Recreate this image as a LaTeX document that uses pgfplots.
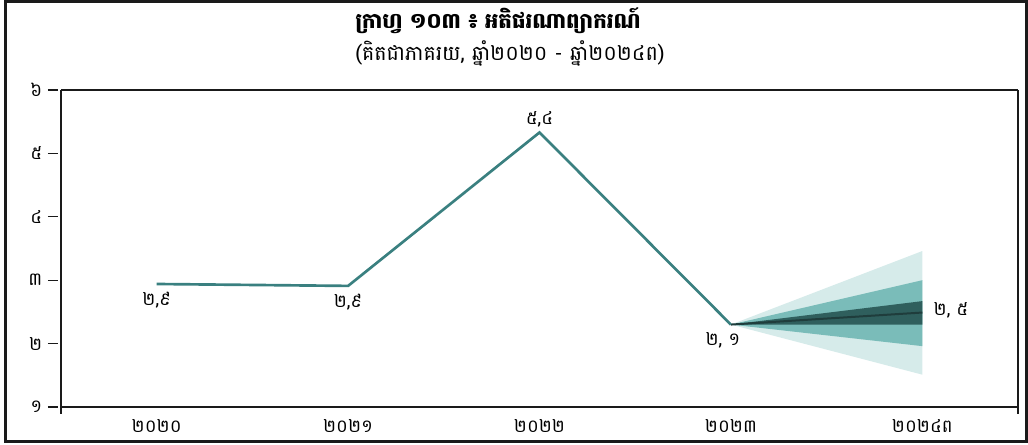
\documentclass[border=0pt]{standalone}
\usepackage{fontspec}
\usepackage{pgfplots}
\pgfplotsset{compat=1.18}
\newfontfamily\khmer[Script=Khmer]{Battambang}
\definecolor{mainline}{HTML}{3A8080}
\definecolor{fanlight}{HTML}{D6EBEA}
\definecolor{fanmid}{HTML}{7ABCB9}
\definecolor{fandark}{HTML}{2F5F5D}
\definecolor{fancenter}{HTML}{1F3D3C}
\definecolor{frame}{HTML}{1A1A1A}
\begin{document}
\begin{tikzpicture}[x=0.75pt,y=0.75pt]
\useasboundingbox (0,0) rectangle (1028,445);
\draw[line width=2.25pt, frame] (5,3.5) rectangle (1026,443.5);
\node[font=\khmer\bfseries\fontsize{16}{19}\selectfont] at (498,424) {ក្រាហ្វ ១០៣ ៖ អតិផរណាព្យាករណ៍};
\node[font=\khmer\fontsize{15.5}{18}\selectfont] at (510,392) {(គិតជាភាគរយ, ឆ្នាំ២០២០ - ឆ្នាំ២០២៤ព)};
\begin{axis}[
  at={(45.75pt,28.5pt)}, anchor=south west,
  scale only axis, width=717.75pt, height=237.75pt,
  xmin=-0.5, xmax=4.5, ymin=1, ymax=6,
  separate axis lines,
  axis line style={line width=1.5pt, frame},
  y axis line style={shorten <=-5.25pt},
  tick align=outside,
  xtick pos=bottom, ytick pos=left,
  major tick length=7.5pt,
  minor tick length=5pt,
  tick style={line width=1pt, frame},
  xtick=\empty,
  minor xtick={0.5,1.5,2.5,3.5},
  extra x ticks={0,1,2,3,4},
  extra x tick labels={\mbox{\khmer ២០២០},\mbox{\khmer ២០២១},\mbox{\khmer ២០២២},\mbox{\khmer ២០២៣},\mbox{\khmer ២០២៤ព}},
  extra x tick style={major tick length=0pt},
  xticklabel style={font=\khmer\fontsize{13.5}{16}\selectfont, yshift=-5.5pt},
  ytick={1,2,3,4,5,6},
  yticklabels={\mbox{\khmer ១},\mbox{\khmer ២},\mbox{\khmer ៣},\mbox{\khmer ៤},\mbox{\khmer ៥},\mbox{\khmer ៦}},
  ytick style={xshift=-2.25pt},
  yticklabel style={font=\khmer\fontsize{13.5}{16}\selectfont, xshift=-3pt},
  clip=false,
]
% fan chart bands
\addplot[draw=none, fill=fanlight] coordinates {(3,2.30) (4,3.46) (4,1.51)} -- cycle;
\addplot[draw=none, fill=fanmid] coordinates {(3,2.30) (4,3.00) (4,1.96)} -- cycle;
\addplot[draw=none, fill=fandark] coordinates {(3,2.30) (4,2.67) (4,2.30)} -- cycle;
\addplot[line width=1.5pt, fancenter] coordinates {(3,2.30) (4,2.49)};
% history
\addplot[line width=2pt, mainline, line join=miter] coordinates {(0,2.94) (1,2.91) (2,5.33) (3,2.30)};
% labels
\node[font=\khmer\fontsize{13.5}{16}\selectfont] at (axis cs:0,2.94) [yshift=-12pt] {២,៩};
\node[font=\khmer\fontsize{13.5}{16}\selectfont] at (axis cs:1,2.91) [yshift=-12pt] {២,៩};
\node[font=\khmer\fontsize{13.5}{16}\selectfont] at (axis cs:2,5.33) [yshift=9.5pt] {៥,៤};
\node[font=\khmer\fontsize{13.5}{16}\selectfont] at (axis cs:3,2.30) [xshift=-6pt,yshift=-12pt] {២, ១};
\node[font=\khmer\fontsize{13.5}{16}\selectfont, anchor=west] at (axis cs:4,2.49) [xshift=5pt,yshift=2pt] {២, ៥};
\end{axis}
\end{tikzpicture}
\end{document}
